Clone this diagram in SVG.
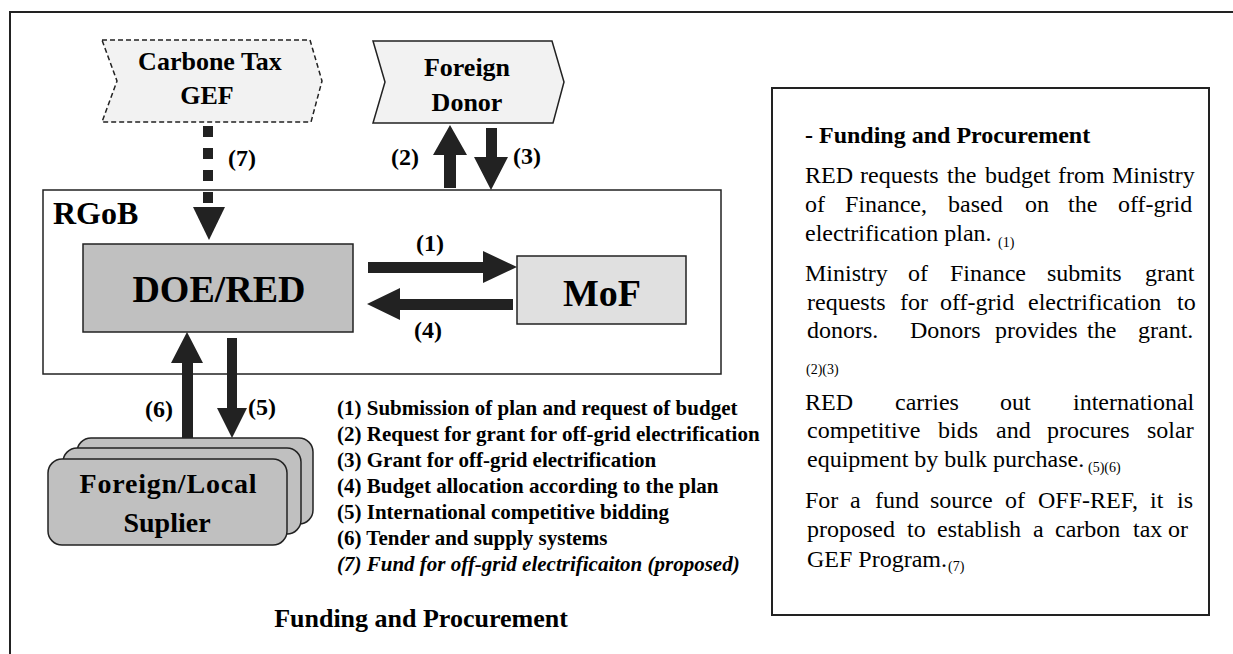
<svg xmlns="http://www.w3.org/2000/svg" width="1233" height="654" viewBox="0 0 1233 654">
<style>
.sb{font-family:"Liberation Serif","Times New Roman",serif;font-weight:bold;fill:#000}
.sr{font-family:"Liberation Serif","Times New Roman",serif;font-size:24px;fill:#000}
.lbl{font-size:24px}
.lst{font-size:21px}
.sub{font-size:14px}
.arr{fill:#222;stroke:none}
.mid{text-anchor:middle}
</style>
<rect width="1233" height="654" fill="#fff"/>
<g id="frame">
<line x1="10" y1="12" x2="1233" y2="12" stroke="#222" stroke-width="2"/>
<line x1="10" y1="11" x2="10" y2="654" stroke="#222" stroke-width="2"/>
</g>
<g id="carbone">
<polygon points="102,40 310,40 322,81 311,122 102,122 117,81" fill="#f2f2f2" stroke="#222" stroke-width="1.5" stroke-dasharray="5,3"/>
<text class="sb mid" x="210" y="70" font-size="26">Carbone Tax</text>
<text class="sb mid" x="207" y="104" font-size="26">GEF</text>
</g>
<g id="donor">
<polygon points="373,41 552,41 564,82 553,123 373,123 385,82" fill="#f2f2f2" stroke="#222" stroke-width="1.5"/>
<text class="sb mid" x="467" y="76" font-size="26">Foreign</text>
<text class="sb mid" x="467" y="111" font-size="26">Donor</text>
</g>
<g id="rgob">
<rect x="43" y="190" width="678" height="184" fill="#fff" stroke="#222" stroke-width="1.5"/>
<text class="sb" x="53" y="224" font-size="32">RGoB</text>
</g>
<g id="doered">
<rect x="83" y="244" width="270" height="88" fill="#c0c0c0" stroke="#222" stroke-width="1.5"/>
<text class="sb mid" x="219" y="302" font-size="38">DOE/RED</text>
</g>
<g id="mof">
<rect x="517" y="256" width="169" height="68" fill="#e0e0e0" stroke="#222" stroke-width="1.5"/>
<text class="sb mid" x="602" y="306" font-size="38">MoF</text>
</g>
<g id="supplier">
<rect x="77" y="438" width="236" height="86" rx="14" fill="#c0c0c0" stroke="#222" stroke-width="1.5"/>
<rect x="63" y="448" width="238" height="86" rx="14" fill="#c0c0c0" stroke="#222" stroke-width="1.5"/>
<rect x="48" y="459" width="239" height="86" rx="14" fill="#c0c0c0" stroke="#222" stroke-width="1.5"/>
<text class="sb mid" x="168" y="493" font-size="28" textLength="177" lengthAdjust="spacing">Foreign/Local</text>
<text class="sb mid" x="167" y="532" font-size="28">Suplier</text>
</g>
<g id="connectors">
<line x1="208" y1="126" x2="208" y2="204" stroke="#222" stroke-width="10" stroke-dasharray="11,11"/>
<polygon class="arr" points="193,207 225,207 209,240"/>
<polygon class="arr" points="368,262 483,262 483,251 517,267 483,283 483,273 368,273"/>
<polygon class="arr" points="513,299 400,299 400,288 367,304 400,320 400,310 513,310"/>
<polygon class="arr" points="444,188 444,155 433,155 450,125 467,155 456,155 456,188"/>
<polygon class="arr" points="486,128 497,128 497,157 508,157 491,190 474,157 486,157"/>
<polygon class="arr" points="182,438 182,363 171,363 187,332 203,363 193,363 193,438"/>
<polygon class="arr" points="227,338 237,338 237,408 247,408 232,438 217,408 227,408"/>
<text class="sb lbl" x="228" y="166">(7)</text>
<text class="sb lbl" x="391" y="165">(2)</text>
<text class="sb lbl" x="513" y="164">(3)</text>
<text class="sb lbl mid" x="430" y="251">(1)</text>
<text class="sb lbl mid" x="428" y="338">(4)</text>
<text class="sb lbl" x="145" y="417">(6)</text>
<text class="sb lbl" x="248" y="415">(5)</text>
</g>
<g id="legend">
<text class="sb lst" x="337" y="415">(1) Submission of plan and request of budget</text>
<text class="sb lst" x="337" y="441">(2) Request for grant for off-grid electrification</text>
<text class="sb lst" x="337" y="467">(3) Grant for off-grid electrification</text>
<text class="sb lst" x="337" y="493">(4) Budget allocation according to the plan</text>
<text class="sb lst" x="337" y="519">(5) International competitive bidding</text>
<text class="sb lst" x="337" y="545">(6) Tender and supply systems</text>
<text class="sb lst" x="337" y="571" font-style="italic">(7) Fund for off-grid electrificaiton (proposed)</text>
<text class="sb mid" x="421" y="627" font-size="26">Funding and Procurement</text>
</g>
<g id="panel">
<rect x="772" y="88" width="437" height="527" fill="#fff" stroke="#222" stroke-width="2"/>
<text class="sb" x="805" y="143" font-size="24">- Funding and Procurement</text>
<text class="sr" y="183"><tspan x="805">RED</tspan><tspan x="860">requests</tspan><tspan x="947">the</tspan><tspan x="985">budget</tspan><tspan x="1058">from</tspan><tspan x="1112">Ministry</tspan></text>
<text class="sr" y="212"><tspan x="805">of</tspan><tspan x="845">Finance,</tspan><tspan x="948">based</tspan><tspan x="1025">on</tspan><tspan x="1068">the</tspan><tspan x="1118">off-grid</tspan></text>
<text class="sr" x="805" y="241">electrification plan. <tspan class="sub" x="998" dy="6">(1)</tspan></text>
<text class="sr" y="281"><tspan x="805">Ministry</tspan><tspan x="908">of</tspan><tspan x="950">Finance</tspan><tspan x="1047">submits</tspan><tspan x="1145">grant</tspan></text>
<text class="sr" y="310"><tspan x="807">requests</tspan><tspan x="900">for</tspan><tspan x="940">off-grid</tspan><tspan x="1028">electrification</tspan><tspan x="1177">to</tspan></text>
<text class="sr" y="338"><tspan x="807">donors.</tspan><tspan x="910">Donors</tspan><tspan x="995">provides</tspan><tspan x="1087">the</tspan><tspan x="1138">grant.</tspan></text>
<text class="sr sub" x="806" y="374">(2)(3)</text>
<text class="sr" y="410"><tspan x="805">RED</tspan><tspan x="895">carries</tspan><tspan x="1000">out</tspan><tspan x="1073">international</tspan></text>
<text class="sr" y="438"><tspan x="807">competitive</tspan><tspan x="938">bids</tspan><tspan x="996">and</tspan><tspan x="1047">procures</tspan><tspan x="1147">solar</tspan></text>
<text class="sr" x="807" y="467">equipment by bulk purchase. <tspan class="sub" x="1088" dy="5">(5)(6)</tspan></text>
<text class="sr" y="508"><tspan x="805">For</tspan><tspan x="850">a</tspan><tspan x="875">fund</tspan><tspan x="930">source</tspan><tspan x="1005">of</tspan><tspan x="1038">OFF-REF,</tspan><tspan x="1150">it</tspan><tspan x="1177">is</tspan></text>
<text class="sr" y="537"><tspan x="807">proposed</tspan><tspan x="907">to</tspan><tspan x="937">establish</tspan><tspan x="1033">a</tspan><tspan x="1055">carbon</tspan><tspan x="1133">tax</tspan><tspan x="1168">or</tspan></text>
<text class="sr" x="807" y="567">GEF Program.<tspan class="sub" x="948" dy="4">(7)</tspan></text>
</g>
</svg>
